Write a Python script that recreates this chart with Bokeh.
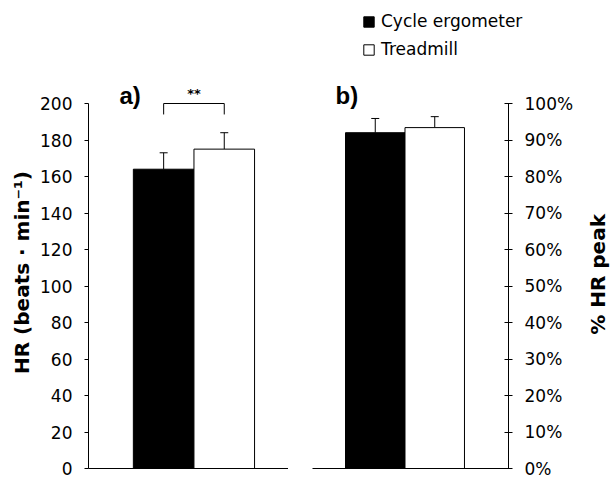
import math
from bokeh.plotting import figure
from bokeh.layouts import row, column
from bokeh.models import (Range1d, FixedTicker, ColumnDataSource, Whisker, TeeHead,
                          Label, Legend, LegendItem)
from bokeh.core.properties import value
from bokeh.embed import file_html
from bokeh.resources import INLINE

# ---- data ----
groups = ["Cycle ergometer", "Treadmill"]
bar_colors = ["black", "white"]
positions = [0, 1]
hr_mean = [164, 175]
hr_sd = [9, 9]
pct_mean = [92.0, 93.4]
pct_sd = [3.9, 3.0]
hr_ticks = list(range(0, 201, 20))
pct_ticks = list(range(0, 101, 10))
pct_labels = {t: f"{t}%" for t in pct_ticks}
sig_text = "**"
bracket_y = 200
bracket_leg = 6
panel_labels = ["a)", "b)"]
left_title = "HR (beats · min⁻¹)"
right_title = "% HR peak"

FONT = "DejaVu Sans"
TICK_SIZE = "17px"
HR_TOP = 214.8      # headroom above the 200 tick (axis line itself stops at 200)
PCT_TOP = HR_TOP / 2

def style(p):
    p.outline_line_color = None
    p.xgrid.visible = False
    p.ygrid.visible = False
    p.background_fill_color = "white"
    p.border_fill_color = "white"
    xa = p.xaxis[0]
    xa.ticker = FixedTicker(ticks=[])
    xa.major_tick_line_color = None
    xa.minor_tick_line_color = None
    xa.major_tick_out = 0
    xa.major_label_standoff = 0
    xa.axis_line_color = "black"
    xa.axis_line_width = 1

def blank(p):
    p.outline_line_color = None
    p.xgrid.visible = False
    p.ygrid.visible = False
    p.background_fill_color = "white"
    p.border_fill_color = "white"

# ---- legend strip ----
pl = figure(width=610, height=66, x_range=Range1d(0, 1), y_range=Range1d(0, 1),
            x_axis_location=None, y_axis_location=None,
            output_backend="svg", toolbar_location=None,
            min_border_left=0, min_border_right=0, min_border_top=0, min_border_bottom=0)
blank(pl)
src_l = ColumnDataSource(dict(x=positions, top=hr_mean, color=bar_colors))
rl = pl.vbar(x="x", top="top", width=1, source=src_l, fill_color="color",
             line_color="black", line_width=1, visible=False)
legend = Legend(items=[LegendItem(label=g, renderers=[rl], index=i) for i, g in enumerate(groups)],
                location=(362, 7), orientation="vertical",
                padding=0, margin=0, spacing=8, glyph_width=13, glyph_height=13,
                label_height=20, label_standoff=6,
                label_text_font=FONT, label_text_font_size="17px", label_text_color="black",
                inactive_fill_alpha=0,
                border_line_color=None, background_fill_alpha=0)
pl.add_layout(legend, "center")

# ---- panel a ----
src_a = ColumnDataSource(dict(x=positions, top=hr_mean, color=bar_colors,
                              upper=[m + s for m, s in zip(hr_mean, hr_sd)]))
pa = figure(width=288, height=412, x_range=Range1d(-1.24, 2.06), y_range=Range1d(0, HR_TOP),
            output_backend="svg", toolbar_location=None,
            min_border_left=88, min_border_right=0, min_border_top=10, min_border_bottom=10)
style(pa)
pa.vbar(x="x", top="top", width=1, source=src_a, fill_color="color",
        line_color="black", line_width=1)
pa.add_layout(Whisker(base="x", lower="top", upper="upper", source=src_a,
                      lower_head=None, upper_head=TeeHead(size=8, line_color="black", line_width=1),
                      line_color="black", line_width=1))
pa.line(x=[positions[0], positions[0], positions[1], positions[1]],
        y=[bracket_y - bracket_leg, bracket_y, bracket_y, bracket_y - bracket_leg],
        line_color="black", line_width=1)
pa.add_layout(Label(x=(positions[0] + positions[1]) / 2, y=205.5, text=sig_text,
                    text_align="center", text_baseline="middle", text_color="black",
                    text_font=FONT, text_font_size="13px", text_font_style="bold"))
pa.add_layout(Label(x=-0.73, y=204.4, text=panel_labels[0], text_align="left",
                    text_baseline="middle", text_font="Liberation Sans", text_color="black",
                    text_font_size="24px", text_font_style="bold"))
ya = pa.yaxis[0]
ya.ticker = FixedTicker(ticks=hr_ticks)
ya.bounds = (0, 200)
ya.major_tick_in = 0
ya.major_tick_out = 4
ya.minor_tick_line_color = None
ya.major_label_standoff = 12
ya.major_label_text_font = FONT
ya.major_label_text_font_size = TICK_SIZE
ya.major_label_text_color = "black"
ya.axis_label = left_title
ya.axis_label_text_font = FONT
ya.axis_label_text_font_size = "20px"
ya.axis_label_text_font_style = "bold"
ya.axis_label_text_color = "black"
ya.axis_label_standoff = 3

# ---- panel b ----
src_b = ColumnDataSource(dict(x=positions, top=pct_mean, color=bar_colors,
                              upper=[m + s for m, s in zip(pct_mean, pct_sd)]))
pb = figure(width=290, height=412, x_range=Range1d(-1.055, 2.24), y_range=Range1d(0, PCT_TOP),
            y_axis_location="right", output_backend="svg", toolbar_location=None,
            min_border_left=24, min_border_right=70, min_border_top=10, min_border_bottom=10)
style(pb)
pb.vbar(x="x", top="top", width=1, source=src_b, fill_color="color",
        line_color="black", line_width=1)
pb.add_layout(Whisker(base="x", lower="top", upper="upper", source=src_b,
                      lower_head=None, upper_head=TeeHead(size=8, line_color="black", line_width=1),
                      line_color="black", line_width=1))
pb.add_layout(Label(x=-0.668, y=102.2, text=panel_labels[1], text_align="left",
                    text_baseline="middle", text_font="Liberation Sans", text_color="black",
                    text_font_size="24px", text_font_style="bold"))
yb = pb.yaxis[0]
yb.ticker = FixedTicker(ticks=pct_ticks)
yb.major_label_overrides = pct_labels
yb.bounds = (0, 100)
yb.major_tick_in = 4
yb.major_tick_out = 4
yb.minor_tick_line_color = None
yb.major_label_standoff = 12
yb.major_label_text_font = FONT
yb.major_label_text_font_size = TICK_SIZE
yb.major_label_text_color = "black"

# ---- right axis title strip ----
pt = figure(width=32, height=412, x_range=Range1d(0, 1), y_range=Range1d(0, 1),
            x_axis_location=None, y_axis_location=None,
            output_backend="svg", toolbar_location=None,
            min_border_left=0, min_border_right=0, min_border_top=0, min_border_bottom=0)
blank(pt)
pt.text(x=[0.6], y=[0.495], text=[right_title], angle=math.pi / 2,
        text_align="center", text_baseline="middle", text_color="black",
        text_font=value(FONT), text_font_size="20px", text_font_style="bold")

layout = column(pl, row(pa, pb, pt))
open("out.html", "w").write(file_html(layout, INLINE))
